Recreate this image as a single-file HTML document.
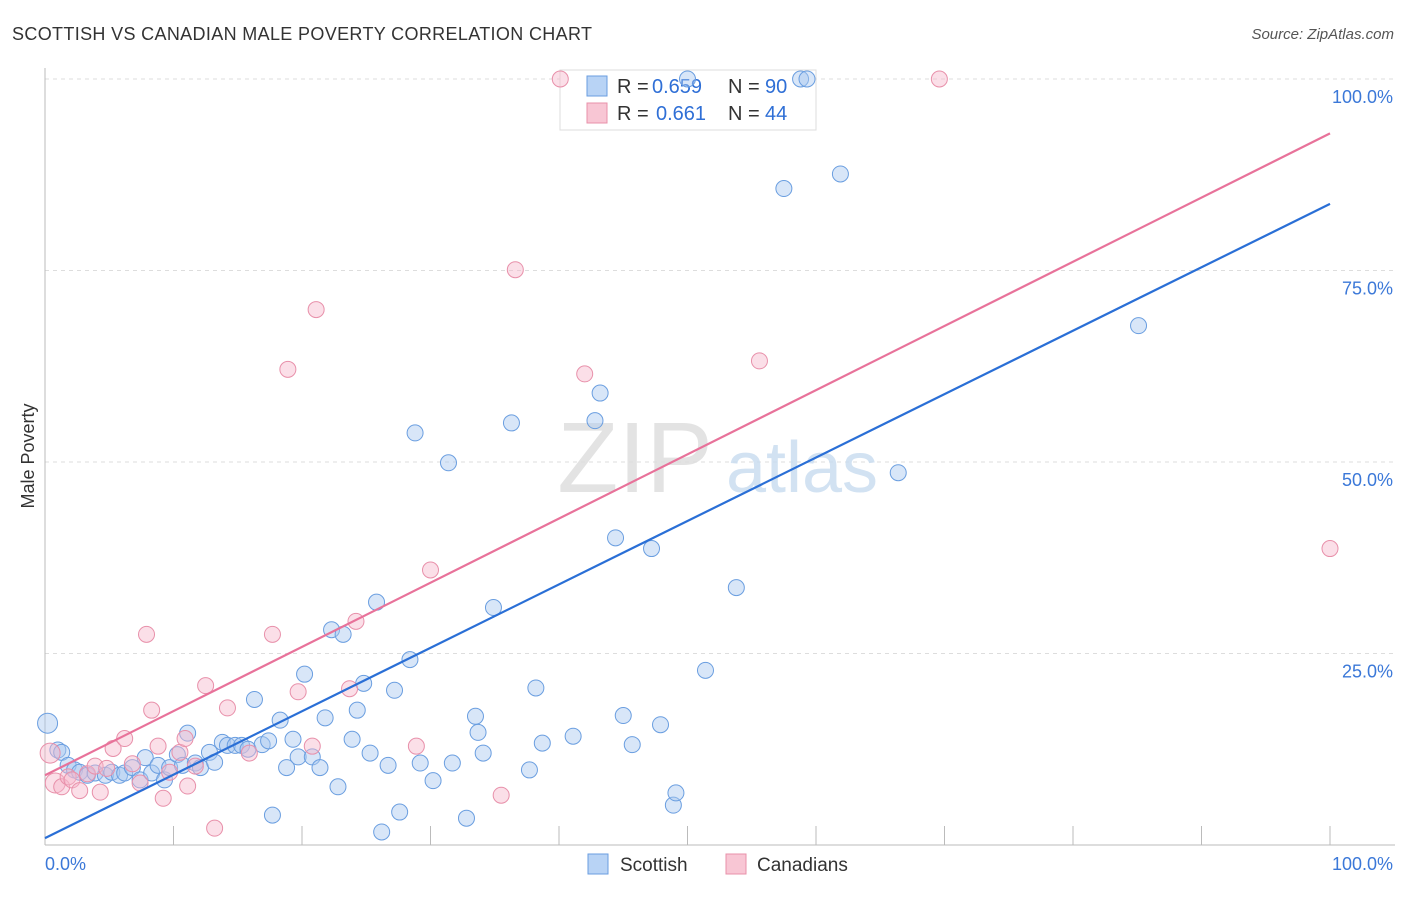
<!DOCTYPE html>
<html><head><meta charset="utf-8"><style>
body{margin:0;background:#fff;font-family:"Liberation Sans",sans-serif}
svg text{font-family:"Liberation Sans",sans-serif}
</style></head><body>
<svg width="1406" height="892" xmlns="http://www.w3.org/2000/svg">
<text x="12" y="40" font-size="18" fill="#333" textLength="580">SCOTTISH VS CANADIAN MALE POVERTY CORRELATION CHART</text>
<text x="1394" y="39" font-size="15" fill="#555" text-anchor="end" font-style="italic">Source: ZipAtlas.com</text>
<g id="grid"></g>
<g>
<text x="635" y="492" font-size="100" fill="#ddd" font-family="Liberation Serif" text-anchor="middle" opacity="0.8">ZIP</text>
<text x="802" y="492" font-size="72" fill="#c8dcf0" text-anchor="middle" opacity="0.8">atlas</text></g>
<g>
<rect x="560" y="70" width="256" height="60" fill="#fff" stroke="#ddd"/>
<rect x="587" y="76" width="20" height="20" fill="#b8d3f5" stroke="#6a9ee0"/>
<text x="617" y="93" font-size="20" fill="#333">R =</text><text x="652" y="93" font-size="20" fill="#2f6fd6">0.659</text>
<text x="728" y="93" font-size="20" fill="#333">N =</text><text x="765" y="93" font-size="20" fill="#2f6fd6">90</text>
<rect x="587" y="103" width="20" height="20" fill="#f8c6d4" stroke="#e890aa"/>
<text x="617" y="120" font-size="20" fill="#333">R =</text><text x="656" y="120" font-size="20" fill="#2f6fd6">0.661</text>
<text x="728" y="120" font-size="20" fill="#333">N =</text><text x="765" y="120" font-size="20" fill="#2f6fd6">44</text>
</g>
<g id="marks"></g>
<text transform="translate(34,456) rotate(-90)" font-size="18" fill="#333" text-anchor="middle">Male Poverty</text>
<g>
<rect x="588" y="854" width="20" height="20" fill="#b8d3f5" stroke="#6a9ee0"/>
<text x="620" y="871" font-size="19" fill="#333">Scottish</text>
<rect x="726" y="854" width="20" height="20" fill="#f8c6d4" stroke="#e890aa"/>
<text x="757" y="871" font-size="19" fill="#333">Canadians</text>
</g>
</svg>
<script>
const yTicks=[25,50,75,100];
const yTickLabels=["25.0%","50.0%","75.0%","100.0%"];
const xTickLabels=["0.0%","100.0%"];
const scotX=[0.2,1,1.3,1.8,2.3,2.7,3.3,3.9,4.7,5.2,5.8,6.2,6.8,7.4,7.8,8.3,8.8,9.3,9.7,10.3,10.7,11.1,11.7,12.1,12.8,13.2,13.8,14.2,14.8,15.3,15.8,16.3,16.9,17.4,17.7,18.3,18.8,19.3,19.7,20.2,20.8,21.4,21.8,22.3,22.8,23.2,23.9,24.3,24.8,25.3,25.8,26.2,26.7,27.2,27.6,28.4,28.8,29.2,30.2,31.4,31.7,32.8,33.5,33.7,34.1,34.9,36.3,37.7,38.2,38.7,41.1,42.8,43.2,44.4,45,45.7,47.2,47.9,48.9,49.1,51.4,53.8,57.5,61.9,66.4,85.1,50.0,58.8,59.3];
const scotY=[15.9,12.4,12.1,10.4,9.8,9.5,9.1,9.4,9.1,9.5,9.1,9.4,10.1,8.5,11.4,9.4,10.4,8.5,10.1,11.8,10.4,14.6,10.7,10.1,12.1,10.8,13.4,13,13,13,12.5,19,13.1,13.6,3.9,16.3,10.1,13.8,11.5,22.3,11.5,10.1,16.6,28.1,7.6,27.5,13.8,17.6,21.1,12,31.7,1.7,10.4,20.2,4.3,24.2,53.8,10.7,8.4,49.9,10.7,3.5,16.8,14.7,12,31,55.1,9.8,20.5,13.3,14.2,55.4,59,40.1,16.9,13.1,38.7,15.7,5.2,6.8,22.8,33.6,85.7,87.6,48.6,67.8,100,100,100];
const canX=[0.4,0.8,1.3,1.8,2.1,2.7,3.3,3.9,4.3,4.8,5.3,6.2,6.8,7.4,7.9,8.3,8.8,9.2,9.7,10.5,10.9,11.1,11.7,12.5,13.2,14.2,15.9,17.7,18.9,19.7,20.8,21.1,23.7,24.2,28.9,30,35.5,36.6,42,55.6,69.6,100,40.1];
const canY=[12,8.1,7.6,8.9,8.5,7.1,9.3,10.3,6.9,10,12.6,13.9,10.6,8.1,27.5,17.6,12.9,6.1,9.5,12.1,13.9,7.7,10.3,20.8,2.2,17.9,12,27.5,62.1,20,12.9,69.9,20.4,29.2,12.9,35.9,6.5,75.1,61.5,63.2,100,38.7,100];
const trendScot=[0.9,83.7];
const trendCan=[9.1,92.9];
const X0=45,X1=1330,Y0=845,Y1=79;
const sx=v=>X0+(X1-X0)*v/100, sy=v=>Y0-(Y0-Y1)*v/100;
const NS="http://www.w3.org/2000/svg";
const grid=document.getElementById('grid'),marks=document.getElementById('marks');
function mk(t,a,p){const e=document.createElementNS(NS,t);for(const k in a)e.setAttribute(k,a[k]);p.appendChild(e);return e;}
yTicks.forEach((t,i)=>{
 const l=mk('line',{x1:X0,x2:1395,y1:sy(t),y2:sy(t),stroke:'#ddd','stroke-dasharray':'4,4'},grid);
 
 
 const tx=mk('text',{x:1393,y:sy(t)+24,'font-size':18,fill:'#3b78d8','text-anchor':'end'},grid);
 tx.textContent=yTickLabels[i];
 
 
});
const ax=mk('line',{x1:X0,x2:X0,y1:68,y2:Y0,stroke:'#bbb'},grid);


const bx=mk('line',{x1:X0,x2:1395,y1:Y0,y2:Y0,stroke:'#bbb'},grid);


for(let i=1;i<=10;i++){const t=mk('line',{x1:sx(i*10),x2:sx(i*10),y1:826,y2:Y0,stroke:'#bbb'},grid);
 
 }
[[0,'start',45],[100,'end',1393]].forEach((d,i)=>{const t=mk('text',{x:d[2],y:870,'font-size':18,fill:'#3b78d8','text-anchor':d[1]},grid);t.textContent=xTickLabels[i];
 
 });
function pts(xs,ys,fill,stroke,name){xs.forEach((x,i)=>{const c=mk('circle',{cx:sx(x),cy:sy(ys[i]),r:x<1?10:8,fill:fill,'fill-opacity':0.45,stroke:stroke,'stroke-width':1},marks);
 
 });}
pts(scotX,scotY,'#a9c8f0','#6a9ee0','scottish-point');
pts(canX,canY,'#f6b8cb','#e890aa','canadians-point');
const l1=mk('line',{x1:sx(0),y1:sy(trendScot[0]),x2:sx(100),y2:sy(trendScot[1]),stroke:'#2a6fd6','stroke-width':2.2},marks);


const l2=mk('line',{x1:sx(0),y1:sy(trendCan[0]),x2:sx(100),y2:sy(trendCan[1]),stroke:'#e8729a','stroke-width':2.2},marks);


</script>
</body></html>
